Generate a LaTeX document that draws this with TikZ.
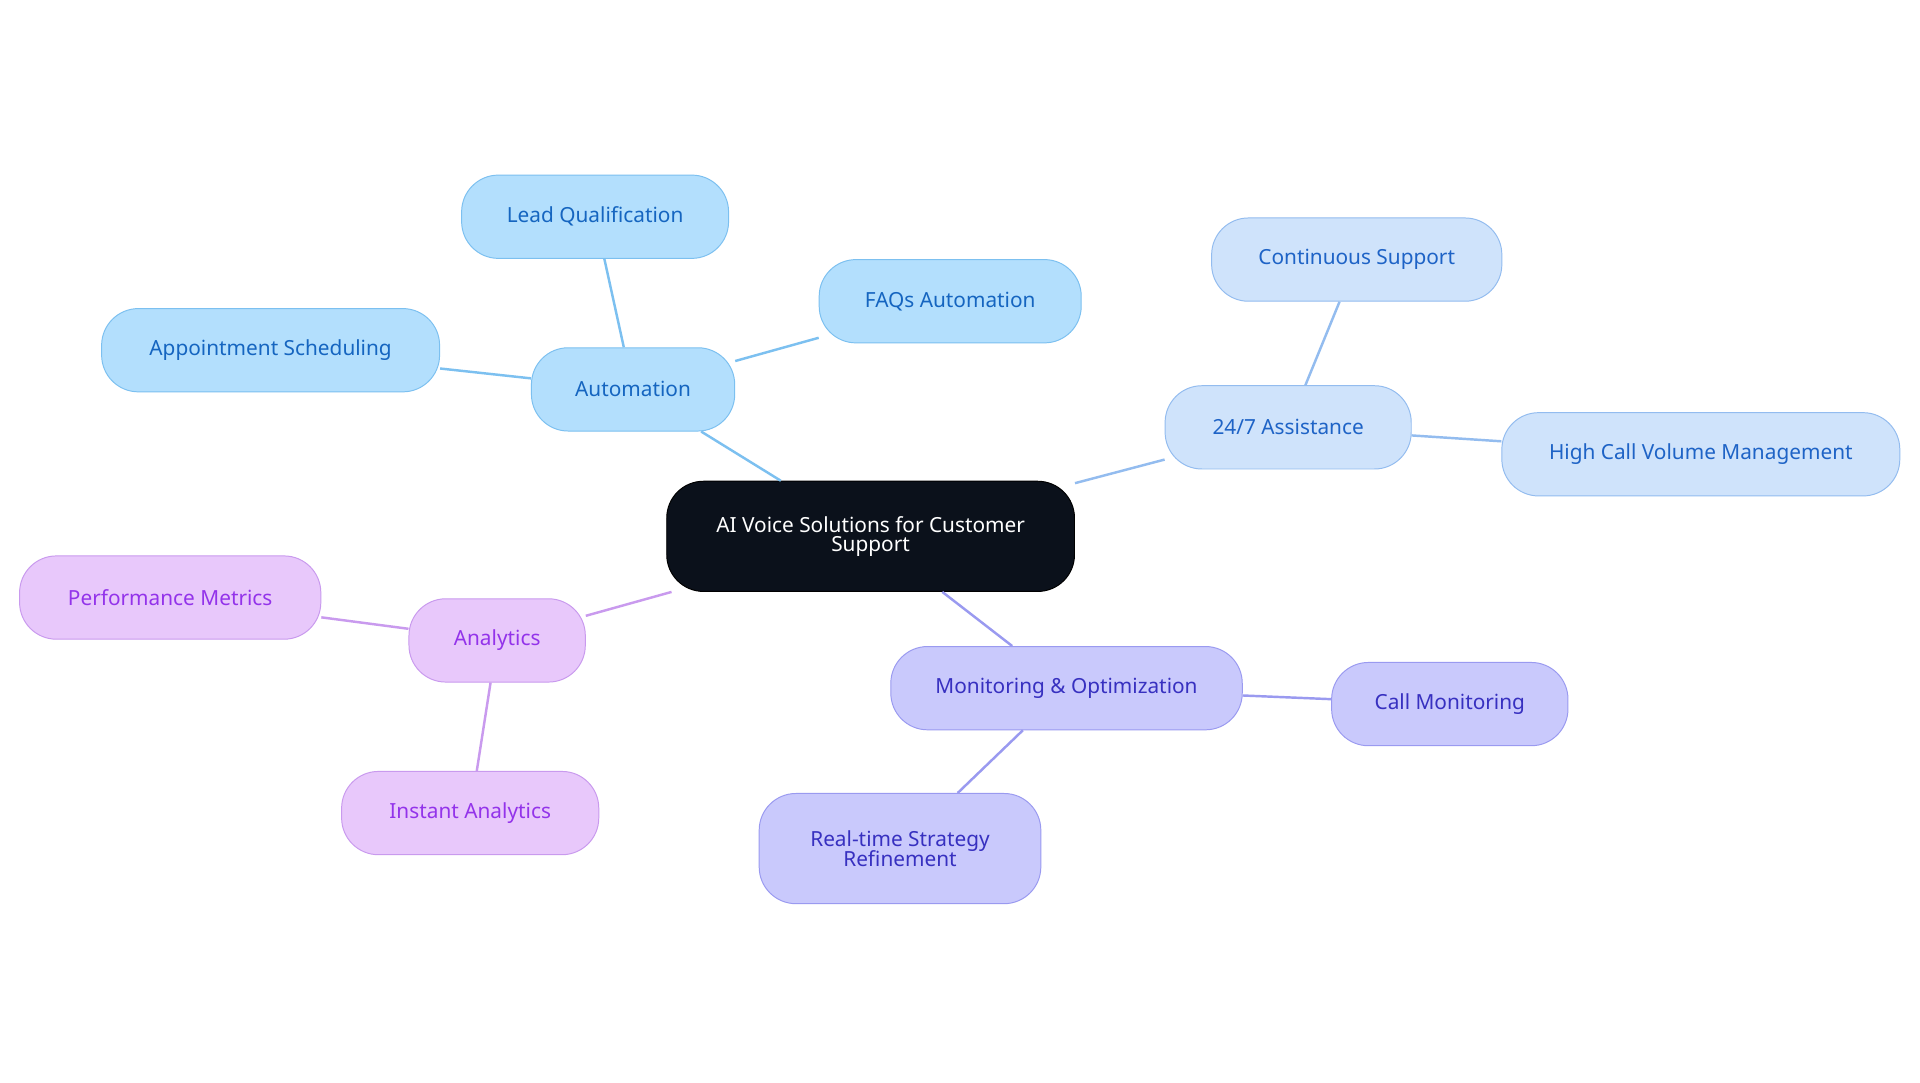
\documentclass[tikz,border=0pt]{standalone}
\usepackage{fontspec}
\setmainfont{Noto Sans}
\begin{document}
\begin{tikzpicture}[x=1pt,y=-1pt,
 box/.style={draw,rounded corners=30pt,minimum height=68pt,align=center,font=\fontsize{17}{19}\selectfont,line width=0.8pt,inner xsep=0pt},
 au/.style={box,fill=autoF,draw=autoD,text=autoT},
 as/.style={box,fill=assF,draw=assD,text=assT},
 an/.style={box,fill=anF,draw=anD,text=anT},
 mo/.style={box,fill=moF,draw=moD,text=moT},
 l/.style={line width=2pt}]
\definecolor{autoF}{HTML}{B3DFFD}\definecolor{autoD}{HTML}{7CC0F0}\definecolor{autoT}{HTML}{1565C0}
\definecolor{assF}{HTML}{CFE3FB}\definecolor{assD}{HTML}{93BCEF}\definecolor{assT}{HTML}{1E63C6}
\definecolor{anF}{HTML}{E8C8FB}\definecolor{anD}{HTML}{C99AEE}\definecolor{anT}{HTML}{9333EA}
\definecolor{moF}{HTML}{C9C9FC}\definecolor{moD}{HTML}{9A9AF0}\definecolor{moT}{HTML}{3730C0}
\useasboundingbox[fill=white] (0,0) rectangle (1568,884);
\node[box,fill=black!90!blue!40!black,fill={rgb,255:red,11;green,17;blue,27},draw=black,text=white,minimum width=333pt,minimum height=90pt] (root) at (711,438) {AI Voice Solutions for Customer\\[-3pt]Support};
\node[au,minimum width=166pt] (auto) at (517,318) {Automation};
\node[au,minimum width=218pt] (lead) at (486,177) {Lead Qualification};
\node[au,minimum width=214pt] (faq) at (776,246) {FAQs Automation};
\node[au,minimum width=276pt] (appt) at (221,286) {Appointment Scheduling};
\node[as,minimum width=201pt] (ass) at (1052,349) {24/7 Assistance};
\node[as,minimum width=237pt] (cont) at (1108,212) {Continuous Support};
\node[as,minimum width=325pt] (high) at (1389,371) {High Call Volume Management};
\node[an,minimum width=144pt] (ana) at (406,523) {Analytics};
\node[an,minimum width=246pt] (perf) at (139,488) {Performance Metrics};
\node[an,minimum width=210pt] (inst) at (384,664) {Instant Analytics};
\node[mo,minimum width=287pt] (mon) at (871,562) {Monitoring \& Optimization};
\node[mo,minimum width=193pt] (call) at (1184,575) {Call Monitoring};
\node[mo,minimum width=230pt,minimum height=90pt] (real) at (735,693) {Real-time Strategy\\[-3pt]Refinement};
\begin{scope}[on background layer/.try]
\end{scope}
\draw[l,autoD] (root) -- (auto) (auto) -- (lead) (auto) -- (faq) (auto) -- (appt);
\draw[l,assD] (root) -- (ass) (ass) -- (cont) (ass) -- (high);
\draw[l,anD] (root) -- (ana) (ana) -- (perf) (ana) -- (inst);
\draw[l,moD] (root) -- (mon) (mon) -- (call) (mon) -- (real);
\end{tikzpicture}
\end{document}
